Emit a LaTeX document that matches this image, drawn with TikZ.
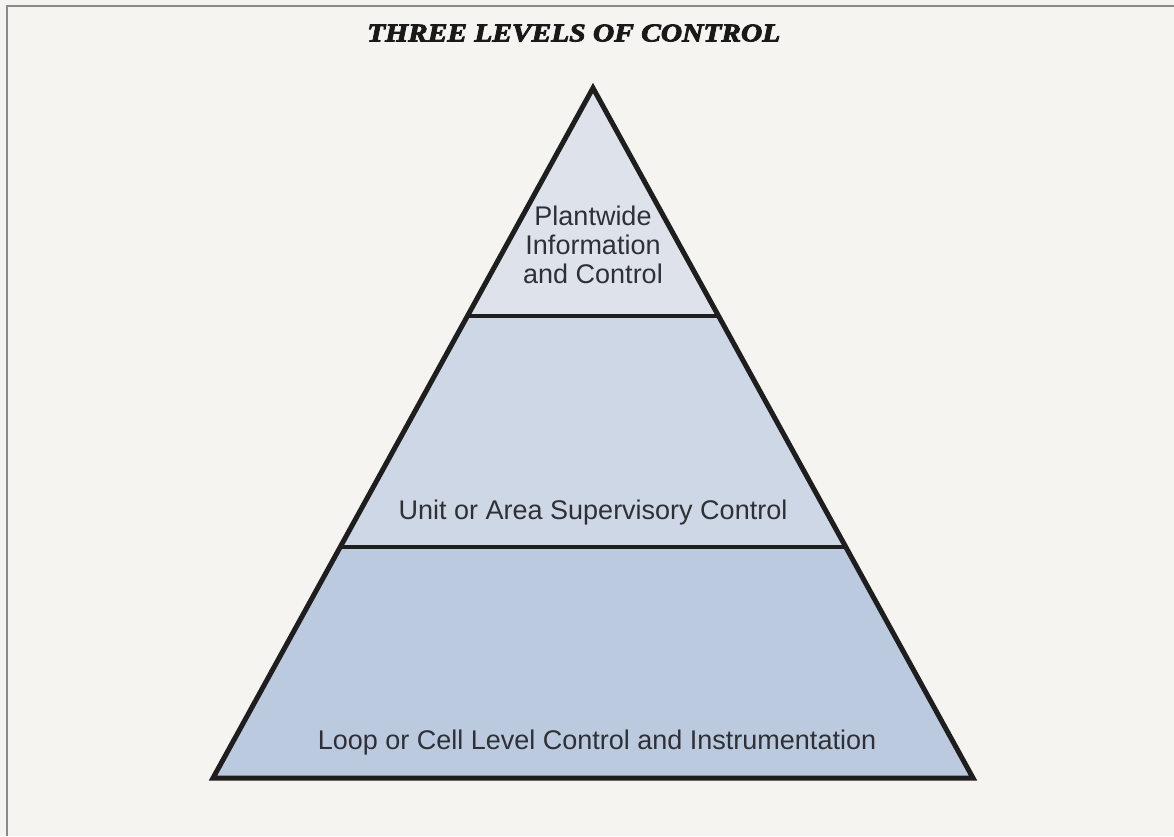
\documentclass[tikz,border=0pt]{standalone}
\usepackage{fontspec}
\setmainfont{Liberation Serif}
\setsansfont{Liberation Sans}
\newfontfamily\titlefont{Liberation Serif}[BoldItalicFeatures={FakeBold=3}]
\usepackage{graphicx}
\definecolor{paper}{HTML}{F5F4F0}
\definecolor{framegray}{HTML}{8A8A8A}
\definecolor{tierone}{HTML}{DEE3EB}
\definecolor{tiertwo}{HTML}{CED7E5}
\definecolor{tierthree}{HTML}{BBCADF}
\definecolor{inktext}{HTML}{2E3036}
\definecolor{outline}{HTML}{1E1E1E}
\tikzset{
  tiertext/.style={font=\sffamily\fontsize{27}{29}\selectfont, text=inktext, inner sep=0pt, align=center},
  edge/.style={draw=outline, line width=5pt, line join=miter},
  divider/.style={draw=outline, line width=4pt},
}
\begin{document}
\begin{tikzpicture}[x=1pt,y=-1pt]
\useasboundingbox (0,0) rectangle (1174,836);
\fill[paper] (0,0) rectangle (1174,836);
% frame (right and bottom sides lie outside the picture)
\draw[framegray, line width=1.6pt] (7,836) -- (7,6) -- (1174,6);
% title
\node[inner sep=0pt, anchor=south west, text=black!90] (title) at (367,42)
  {\resizebox{413pt}{17pt}{\titlefont\bfseries\itshape THREE LEVELS OF CONTROL}};
% pyramid geometry
\coordinate (apex) at (593,88);
\coordinate (bl) at (213,778);
\coordinate (br) at (973,778);
\coordinate (d1l) at (467.4,316);
\coordinate (d1r) at (718.6,316);
\coordinate (d2l) at (340.2,547);
\coordinate (d2r) at (845.8,547);
\fill[tierone] (apex) -- (d1r) -- (d1l) -- cycle;
\fill[tiertwo] (d1l) -- (d1r) -- (d2r) -- (d2l) -- cycle;
\fill[tierthree] (d2l) -- (d2r) -- (br) -- (bl) -- cycle;
\draw[divider] (d1l) -- (d1r);
\draw[divider] (d2l) -- (d2r);
\draw[edge] (apex) -- (br) -- (bl) -- cycle;
% labels
\node[tiertext, anchor=base] (plant) at (593,283) {Plantwide\\Information\\and Control};
\node[tiertext, anchor=base] (unit) at (593,519) {Unit or Area Supervisory Control};
\node[tiertext, anchor=base] (loop) at (597,749) {Loop or Cell Level Control and Instrumentation};
\end{tikzpicture}
\end{document}
